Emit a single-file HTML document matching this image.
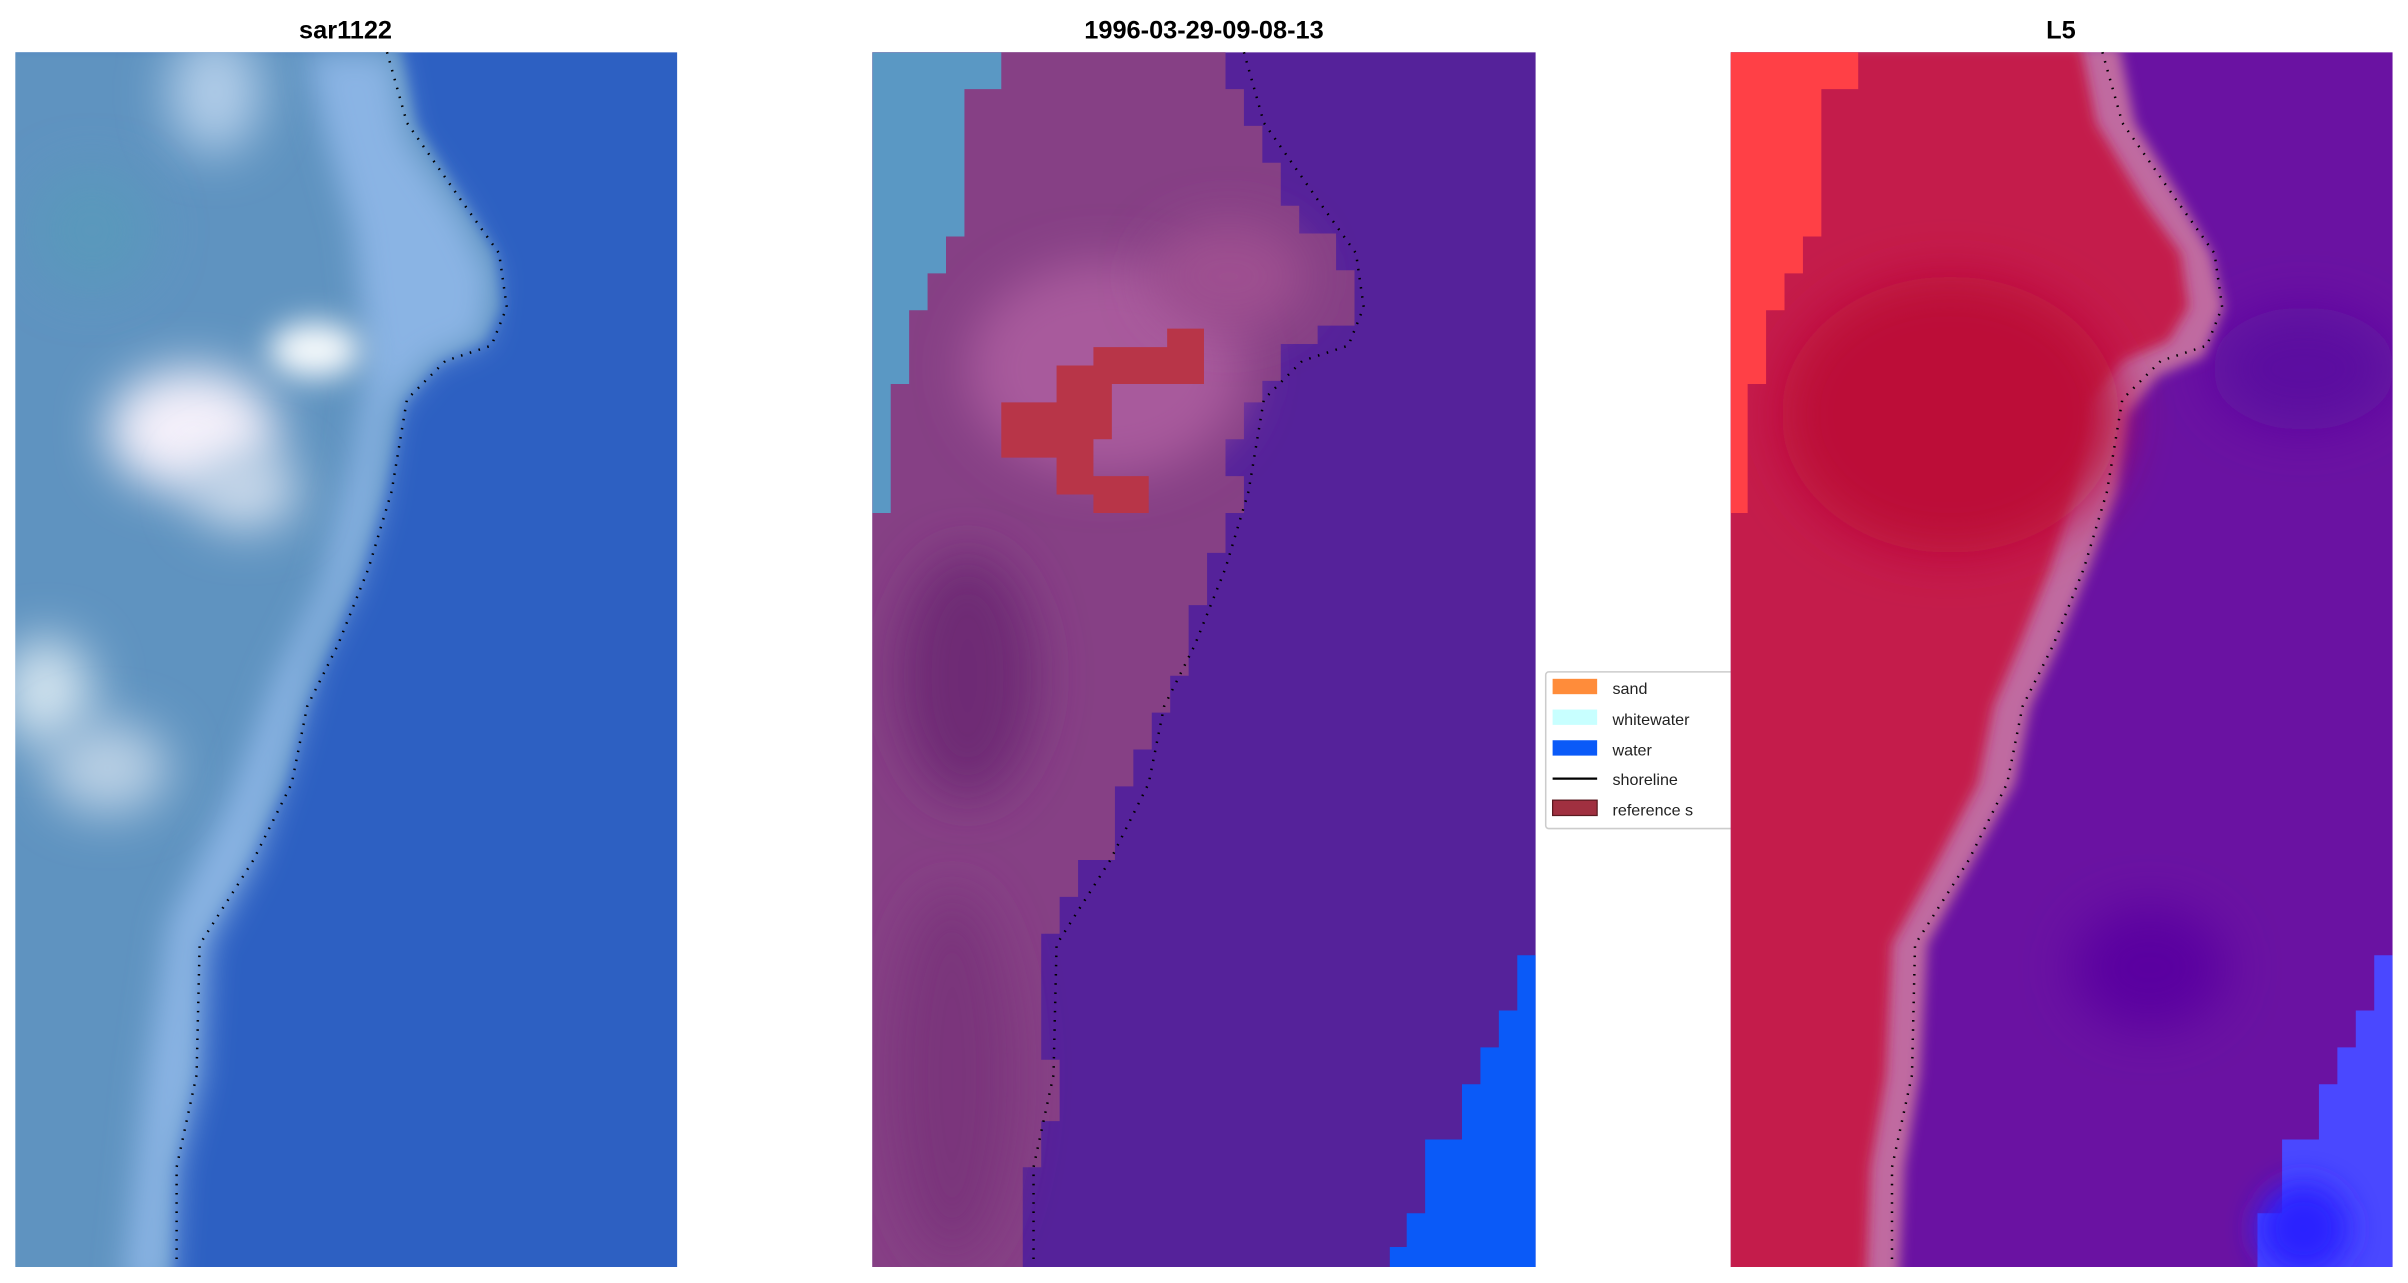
<!DOCTYPE html>
<html><head><meta charset="utf-8"><style>
html,body{margin:0;padding:0;background:#fff;}
svg{display:block;}
text{font-family:"Liberation Sans","DejaVu Sans",sans-serif;}
</style></head><body>
<svg width="2408" height="1283" viewBox="0 0 1568 835.4" preserveAspectRatio="none" xmlns="http://www.w3.org/2000/svg">
<defs>
<filter id="b4" x="-50%" y="-50%" width="200%" height="200%"><feGaussianBlur stdDeviation="4"/></filter>
<filter id="b10" x="-100%" y="-100%" width="300%" height="300%"><feGaussianBlur stdDeviation="10"/></filter>
<filter id="b16" x="-100%" y="-100%" width="300%" height="300%"><feGaussianBlur stdDeviation="16"/></filter>
<clipPath id="c1"><rect x="10" y="34" width="431" height="791"/></clipPath>
<clipPath id="c2"><rect x="568" y="34" width="432" height="791"/></clipPath>
<clipPath id="c3"><rect x="1127" y="34" width="431" height="791"/></clipPath>
</defs>

<text x="225" y="25" text-anchor="middle" font-size="16.5" font-weight="bold">sar1122</text>
<text x="784" y="25" text-anchor="middle" font-size="16.5" font-weight="bold">1996-03-29-09-08-13</text>
<text x="1342" y="25" text-anchor="middle" font-size="16.5" font-weight="bold">L5</text>

<!-- Panel 1 -->
<g clip-path="url(#c1)">
<rect x="10" y="34" width="431" height="791" fill="#2d60c2"/>
<path d="M0,30 L260,30 L270,80 L300,130 L322,165 L326,200 L315,222 L285,235 L262,262 L250,320 L235,370 L215,420 L198,460 L185,510 L160,560 L128,615 L125,700 L112,760 L110,840 L0,840 Z" fill="#5f93c0" filter="url(#b4)"/>
<path d="M200,34 L255,34 L265,90 L300,140 L320,180 L315,220 L280,235 L255,265 L245,330 L230,380 L205,430 L185,500 L165,560 L135,615 L130,700 L115,760 L110,840 L80,840 L95,700 L110,600 L150,520 L180,440 L210,380 L230,300 L240,240 L230,150 L210,80 Z" fill="#8ab4e4" filter="url(#b10)"/>
<ellipse cx="125" cy="280" rx="55" ry="40" fill="#f4f0fa" filter="url(#b16)"/>
<ellipse cx="205" cy="228" rx="30" ry="18" fill="#f6fafc" filter="url(#b10)"/>
<ellipse cx="160" cy="320" rx="35" ry="25" fill="#c8d8ea" filter="url(#b16)"/>
<ellipse cx="30" cy="450" rx="30" ry="35" fill="#d0e2ee" filter="url(#b16)"/>
<ellipse cx="70" cy="500" rx="40" ry="30" fill="#b8cfe4" filter="url(#b16)"/>
<ellipse cx="140" cy="60" rx="30" ry="40" fill="#b0cce8" filter="url(#b16)"/>
<ellipse cx="60" cy="150" rx="40" ry="40" fill="#5a98bc" filter="url(#b16)"/>
</g>

<!-- Panel 2 -->
<g clip-path="url(#c2)">
<rect x="568" y="34" width="432" height="791" fill="#55229a"/>
<path d="M560,30 L798,30 L798,58 L810,58 L810,82 L822,82 L822,106 L834,106 L834,134 L846,134 L846,152 L870,152 L870,176 L882,176 L882,212 L858,212 L858,224 L834,224 L834,248 L822,248 L822,262 L810,262 L810,286 L798,286 L798,310 L810,310 L810,334 L798,334 L798,360 L786,360 L786,394 L774,394 L774,440 L762,440 L762,464 L750,464 L750,488 L738,488 L738,512 L726,512 L726,560 L702,560 L702,584 L690,584 L690,608 L678,608 L678,690 L690,690 L690,730 L678,730 L678,760 L666,760 L666,840 L560,840 Z" fill="#864085"/>
<g clip-path="url(#c2)">
<ellipse cx="720" cy="240" rx="90" ry="70" fill="#a85a9c" filter="url(#b16)"/>
<ellipse cx="800" cy="180" rx="50" ry="35" fill="#9e5090" filter="url(#b16)"/>
<ellipse cx="630" cy="440" rx="45" ry="80" fill="#6e2c74" filter="url(#b16)"/>
<ellipse cx="620" cy="700" rx="40" ry="120" fill="#7a347c" filter="url(#b16)"/>
</g>
<path d="M568,34 L652,34 L652,58 L628,58 L628,154 L616,154 L616,178 L604,178 L604,202 L592,202 L592,250 L580,250 L580,334 L568,334 Z" fill="#5a98c4"/>
<path d="M712,226 L760,226 L760,214 L784,214 L784,250 L724,250 L724,286 L712,286 L712,310 L748,310 L748,334 L712,334 L712,322 L688,322 L688,298 L652,298 L652,262 L688,262 L688,238 L712,238 Z" fill="#b83548"/>
<path d="M1000,622 L1000,825 L905,825 L905,812 L916,812 L916,790 L928,790 L928,742 L952,742 L952,706 L964,706 L964,682 L976,682 L976,658 L988,658 L988,622 Z" fill="#0a5af8"/>
</g>

<!-- legend (drawn under panel 3) -->
<rect x="1006.5" y="437.5" width="140" height="102" rx="2" fill="#fff" stroke="#ccc"/>
<rect x="1011" y="442" width="29" height="10" fill="#ff8c3a"/>
<rect x="1011" y="462" width="29" height="10" fill="#c8ffff"/>
<rect x="1011" y="482" width="29" height="10" fill="#0a5af8"/>
<line x1="1011" y1="507" x2="1040" y2="507" stroke="#000" stroke-width="1.5"/>
<rect x="1011" y="521" width="29" height="10" fill="#a03040" stroke="#5a1a20" stroke-width="0.8"/>
<g font-size="10.5" fill="#222">
<text x="1050" y="452">sand</text>
<text x="1050" y="472">whitewater</text>
<text x="1050" y="492">water</text>
<text x="1050" y="511">shoreline</text>
<text x="1050" y="531">reference s</text>
</g>

<!-- Panel 3 -->
<g clip-path="url(#c3)">
<rect x="1127" y="34" width="431" height="791" fill="#6a12a2"/>
<ellipse cx="1500" cy="240" rx="60" ry="40" fill="#5c0aa0" filter="url(#b16)"/>
<ellipse cx="1400" cy="630" rx="50" ry="40" fill="#5a06a0" filter="url(#b16)"/>
<path d="M1360,30 L1380,30 L1390,80 L1420,130 L1440,165 L1448,200 L1435,232 L1405,245 L1385,270 L1378,320 L1360,370 L1340,420 L1322,460 L1312,510 L1285,560 L1255,615 L1250,700 L1240,760 L1236,840 L1120,840 L1120,30 Z" fill="#c06aa0" filter="url(#b4)"/>
<path d="M1120,30 L1355,30 L1365,80 L1395,130 L1420,165 L1425,200 L1412,222 L1382,235 L1360,262 L1350,320 L1335,370 L1315,420 L1298,460 L1288,510 L1262,560 L1232,615 L1228,700 L1218,760 L1215,840 L1120,840 Z" fill="#c41a4c" filter="url(#b4)"/>
<ellipse cx="1270" cy="270" rx="110" ry="90" fill="#bc0a38" filter="url(#b16)"/>
<path d="M1127,34 L1210,34 L1210,58 L1186,58 L1186,154 L1174,154 L1174,178 L1162,178 L1162,202 L1150,202 L1150,250 L1138,250 L1138,334 L1127,334 Z" fill="#ff4046"/>
<path d="M1558,622 L1558,825 L1470,825 L1470,790 L1486,790 L1486,742 L1510,742 L1510,706 L1522,706 L1522,682 L1534,682 L1534,658 L1546,658 L1546,622 Z" fill="#4a48ff"/>
<ellipse cx="1500" cy="800" rx="30" ry="30" fill="#2a20ff" filter="url(#b10)"/>
</g>

<!-- shorelines -->
<g fill="none" stroke="#000" stroke-width="1.6" stroke-dasharray="1 5">
<path d="M252,34 L265,80 L300,130 L325,165 L330,200 L320,225 L290,235 L265,260 L255,320 L240,370 L220,420 L200,460 L190,510 L165,560 L130,615 L128,700 L115,760 L115,822"/>
<path transform="translate(558,0)" d="M252,34 L265,80 L300,130 L325,165 L330,200 L320,225 L290,235 L265,260 L255,320 L240,370 L220,420 L200,460 L190,510 L165,560 L130,615 L128,700 L115,760 L115,822"/>
<path transform="translate(1117,0)" d="M252,34 L265,80 L300,130 L325,165 L330,200 L320,225 L290,235 L265,260 L255,320 L240,370 L220,420 L200,460 L190,510 L165,560 L130,615 L128,700 L115,760 L115,822"/>
</g>
</svg>
</body></html>
